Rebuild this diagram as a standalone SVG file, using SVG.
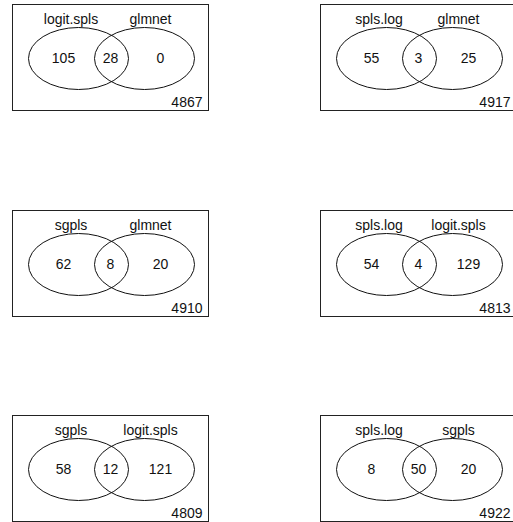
<svg xmlns="http://www.w3.org/2000/svg" width="513" height="522" viewBox="0 0 513 522">
<style>
.box{fill:none;stroke:#222;stroke-width:1}
.el{fill:none;stroke:#111;stroke-width:1}
text{font-family:"Liberation Sans",Arial,sans-serif;font-size:14px;fill:#111}
.c{text-anchor:middle}
.r{text-anchor:end}
</style>
<rect width="513" height="522" fill="#fff"/>
<defs>
<g id="venn">
<rect class="box" x="0" y="0" width="196" height="106"/>
<ellipse class="el" cx="66" cy="54" rx="50" ry="31"/>
<ellipse class="el" cx="132" cy="54" rx="50" ry="31"/>
</g>
</defs>
<g id="panel1" transform="translate(12.5,4.5)">
<use href="#venn"/>
<text class="c" x="58.5" y="19">logit.spls</text>
<text class="c" x="138" y="19">glmnet</text>
<text class="c" x="51" y="58.5">105</text>
<text class="c" x="98" y="58.5">28</text>
<text class="c" x="148" y="58.5">0</text>
<text class="r" x="190" y="102.5">4867</text>
</g>
<g id="panel2" transform="translate(320.5,4.5)">
<use href="#venn"/>
<text class="c" x="58.5" y="19">spls.log</text>
<text class="c" x="138" y="19">glmnet</text>
<text class="c" x="51" y="58.5">55</text>
<text class="c" x="98" y="58.5">3</text>
<text class="c" x="148" y="58.5">25</text>
<text class="r" x="190" y="102.5">4917</text>
</g>
<g id="panel3" transform="translate(12.5,210.5)">
<use href="#venn"/>
<text class="c" x="58.5" y="19">sgpls</text>
<text class="c" x="138" y="19">glmnet</text>
<text class="c" x="51" y="58.5">62</text>
<text class="c" x="98" y="58.5">8</text>
<text class="c" x="148" y="58.5">20</text>
<text class="r" x="190" y="102.5">4910</text>
</g>
<g id="panel4" transform="translate(320.5,210.5)">
<use href="#venn"/>
<text class="c" x="58.5" y="19">spls.log</text>
<text class="c" x="138" y="19">logit.spls</text>
<text class="c" x="51" y="58.5">54</text>
<text class="c" x="98" y="58.5">4</text>
<text class="c" x="148" y="58.5">129</text>
<text class="r" x="190" y="102.5">4813</text>
</g>
<g id="panel5" transform="translate(12.5,415.5)">
<use href="#venn"/>
<text class="c" x="58.5" y="19">sgpls</text>
<text class="c" x="138" y="19">logit.spls</text>
<text class="c" x="51" y="58.5">58</text>
<text class="c" x="98" y="58.5">12</text>
<text class="c" x="148" y="58.5">121</text>
<text class="r" x="190" y="102.5">4809</text>
</g>
<g id="panel6" transform="translate(320.5,415.5)">
<use href="#venn"/>
<text class="c" x="58.5" y="19">spls.log</text>
<text class="c" x="138" y="19">sgpls</text>
<text class="c" x="51" y="58.5">8</text>
<text class="c" x="98" y="58.5">50</text>
<text class="c" x="148" y="58.5">20</text>
<text class="r" x="190" y="102.5">4922</text>
</g>
<g id="connectors"/>
</svg>
